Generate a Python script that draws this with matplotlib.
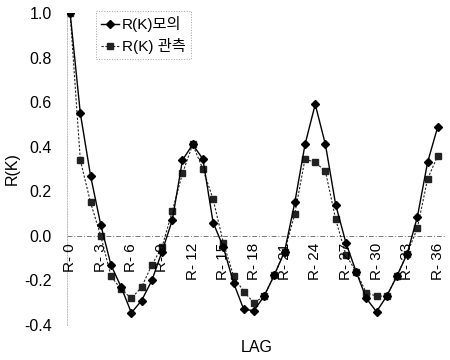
import matplotlib
matplotlib.use('Agg')
import matplotlib.pyplot as plt

plt.rcParams['font.family'] = ['Liberation Sans', 'Noto Sans CJK KR', 'DejaVu Sans']
plt.rcParams['axes.unicode_minus'] = False

# 시차(LAG) 0 ~ 36
lags = list(range(37))
# 모의 자기상관계수
r_model = [1.0, 0.55, 0.27, 0.05, -0.13, -0.23, -0.345, -0.29, -0.2, -0.07,
           0.07, 0.34, 0.41, 0.345, 0.06, -0.05, -0.21, -0.33, -0.335, -0.27,
           -0.175, -0.07, 0.15, 0.41, 0.59, 0.41, 0.14, -0.03, -0.16, -0.28,
           -0.34, -0.27, -0.18, -0.08, 0.085, 0.33, 0.49]
# 관측 자기상관계수
r_obs = [1.0, 0.34, 0.15, 0.0, -0.18, -0.24, -0.28, -0.23, -0.13, -0.05,
         0.11, 0.28, 0.41, 0.30, 0.165, -0.03, -0.18, -0.25, -0.30, -0.27,
         -0.175, -0.07, 0.10, 0.345, 0.33, 0.29, 0.075, -0.085, -0.16, -0.255,
         -0.27, -0.27, -0.18, -0.08, 0.035, 0.255, 0.36]
tick_lags = list(range(0, 37, 3))
tick_labels = ['R- %d' % k for k in tick_lags]
y_ticks = [-0.4, -0.2, 0.0, 0.2, 0.4, 0.6, 0.8, 1.0]

fig = plt.figure(figsize=(4.5, 3.6), dpi=100)
ax = fig.add_axes([0.149, 0.097, 0.842, 0.867])

ax.axhline(0, color='#777777', lw=0.7, ls=(0, (5, 2, 1, 2)), zorder=1)

ax.plot(lags, r_model, color='black', lw=1.0, marker='D', ms=3.6,
        label='R(K)모의', zorder=3)
ax.plot(lags, r_obs, color='#222222', lw=0.8, ls=(0, (2, 1.5)), marker='s',
        ms=4.5, label='R(K) 관측', zorder=2)

ax.set_xlim(-0.3, 36.8)
ax.set_ylim(-0.4, 1.0)
ax.set_yticks(y_ticks)
ax.set_yticklabels(['%.1f' % v for v in y_ticks], fontsize=11.5)
ax.tick_params(axis='y', length=0, pad=11)
ax.set_xticks([])

# 0선 바로 아래에 세로로 쓴 시차 라벨
for k, lab in zip(tick_lags, tick_labels):
    ax.annotate(lab, xy=(k, 0), xytext=(0, -5), textcoords='offset points',
                rotation=90, ha='center', va='top', fontsize=11)

for s in ['top', 'right', 'bottom']:
    ax.spines[s].set_visible(False)
ax.spines['left'].set_linestyle(':')
ax.spines['left'].set_color('#bbbbbb')
ax.spines['left'].set_linewidth(0.7)

ax.set_ylabel('R(K)', fontsize=11.5, labelpad=3)
ax.set_xlabel('LAG', fontsize=11.5, labelpad=11)

leg = ax.legend(loc='upper left', bbox_to_anchor=(0.077, 1.005), fontsize=11,
                frameon=True, fancybox=False, handlelength=1.2,
                handletextpad=0.2, borderpad=0.3, labelspacing=0.4,
                borderaxespad=0)
leg.get_frame().set_linestyle(':')
leg.get_frame().set_edgecolor('#888888')
leg.get_frame().set_linewidth(0.7)

fig.savefig('out.png', dpi=100)
